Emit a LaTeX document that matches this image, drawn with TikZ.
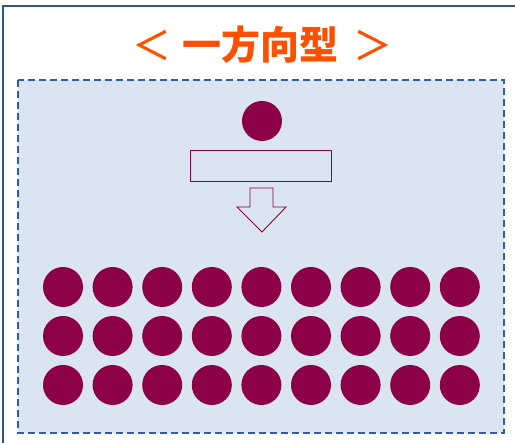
\documentclass[tikz,border=0pt]{standalone}
\usepackage{fontspec}
\newfontfamily\cjk{Noto Sans CJK JP}
\newfontfamily\cjkmed{Noto Sans CJK JP}[FakeBold=1.2]
\definecolor{frameblue}{HTML}{2F5597}
\definecolor{dashblue}{HTML}{2E5EAA}
\definecolor{panel}{HTML}{DAE5F1}
\definecolor{plum}{HTML}{8C0048}
\definecolor{titleor}{HTML}{FF5000}
\tikzset{
  dot/.style={circle,fill=plum,minimum size=40pt,inner sep=0pt},
  outline/.style={draw=plum,line width=1pt},
  ttl/.style={text=titleor,inner sep=0pt},
}
\begin{document}
\begin{tikzpicture}[x=1pt,y=-1pt]
\useasboundingbox (0,0) rectangle (515,443);
\fill[white] (0,0) rectangle (515,443);
\draw[frameblue,line width=1.5pt] (3,445) -- (3,6) -- (517,6);
\node[ttl,font=\cjk\bfseries\fontsize{39}{41}\selectfont] (title) at (260.5,45) {一方向型};
\node[ttl,font=\cjkmed\fontsize{38}{40}\selectfont] (lb) at (151.5,45) {＜};
\node[ttl,font=\cjkmed\fontsize{38}{40}\selectfont] (rb) at (372.5,45) {＞};
\draw[dashblue,fill=panel,line width=1.8pt,dash pattern=on 7pt off 4pt] (18,80) rectangle (504,433);
\node[dot] (top) at (262,121) {};
\draw[outline] (190,151) rectangle (331,182);
\draw[outline,line width=0.9pt] (250,188) -- (273,188) -- (273,207) -- (286,207) -- (262,232) -- (237,207) -- (250,207) -- cycle;
\foreach \r/\y in {1/287,2/336,3/385}{
  \foreach \c in {0,...,8}{
    \node[dot] (d\r\c) at ({63+\c*49.6},\y) {};
  }
}
\end{tikzpicture}
\end{document}
